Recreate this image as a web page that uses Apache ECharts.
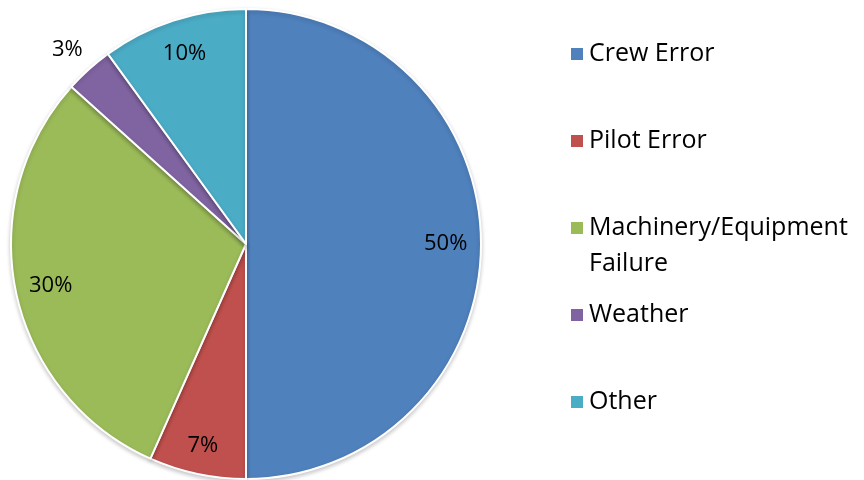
<!DOCTYPE html>
<html>
<head>
<meta charset="utf-8">
<script src="https://cdn.jsdelivr.net/npm/echarts@6/dist/echarts.min.js"></script>
<style>
  html, body { margin: 0; padding: 0; background: #fff; }
  #chart { width: 864px; height: 480px; }
</style>
</head>
<body>
<div id="chart"></div>
<script>
const categories = ["Crew Error", "Pilot Error", "Machinery/Equipment Failure", "Weather", "Other"];
// counts; labels show the rounded share of the total
const counts = [15, 2, 9, 1, 3];
const colors = ["#4F81BD", "#C0504D", "#9BBB59", "#8064A2", "#4BACC6"];

const chart = echarts.init(document.getElementById("chart"));
const font = "Open Sans";

// labels sit just inside the rim (negative line length pulls them in), 3% sits outside
const labelTweaks = [
  { len: -35, dist: -22 },
  { len: -29, dist: -15 },
  { len: -35, dist: -22 },
  { len: 27, dist: -12 },
  { len: -35, dist: -22 }
];

const data = categories.map((name, i) => ({
  name: name,
  value: counts[i],
  itemStyle: { color: colors[i] },
  label: { distanceToLabelLine: labelTweaks[i].dist },
  labelLine: { show: false, length: labelTweaks[i].len, length2: 0 }
}));

const legendTops = [36, 123, 174, 297, 384];
const legends = categories.map((name, i) => ({
  data: [name],
  left: 569,
  top: legendTops[i],
  padding: 0,
  icon: "rect",
  itemWidth: 14,
  itemHeight: 14,
  selectedMode: false,
  formatter: n => n === "Machinery/Equipment Failure" ? "\nMachinery/Equipment\nFailure" : n,
  textStyle: { fontFamily: font, fontSize: 25, color: "#000", lineHeight: 36 }
}));

chart.setOption({
  backgroundColor: "#fff",
  animation: false,
  legend: legends,
  series: [
    {
      type: "pie",
      center: [246, 244],
      radius: 235,
      startAngle: 90,
      clockwise: true,
      percentPrecision: 0,
      avoidLabelOverlap: false,
      itemStyle: {
        borderColor: "#fff",
        borderWidth: 2,
        shadowBlur: 4,
        shadowOffsetY: 2,
        shadowColor: "rgba(0,0,0,0.2)"
      },
      label: {
        show: true,
        position: "outside",
        formatter: "{d}%",
        fontFamily: font,
        fontSize: 22,
        color: "#000"
      },
      emphasis: { disabled: true },
      data: data
    }
  ]
});

window.addEventListener("resize", () => chart.resize());
</script>
</body>
</html>
